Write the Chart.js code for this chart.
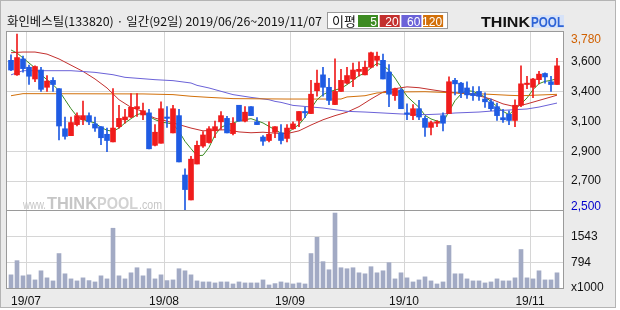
<!DOCTYPE html>
<html>
<head>
<meta charset="utf-8">
<script src="https://cdn.jsdelivr.net/npm/chart.js@4.4.1/dist/chart.umd.min.js"></script>
<style>
html, body { margin: 0; padding: 0; background: #fff; }
canvas { display: block; }
</style>
</head>
<body>
<canvas id="chart" width="620" height="310"></canvas>
<script>
// daily candles, 2019/06/26 ~ 2019/11/07 (92 trading days)
const opens = [3590, 3485, 3600, 3540, 3455, 3520, 3395, 3445, 3385, 3095,
    3045, 3125, 3160, 3190, 3130, 3110, 3055, 3000, 3110, 3160,
    3180, 3240, 3195, 3210, 2975, 2990, 3180, 3065, 3190, 2760,
    2580, 2840, 2970, 2995, 3080, 3145, 3170, 3060, 3265, 3150,
    3255, 3145, 3035, 3010, 3070, 3065, 3025, 3095, 3155, 3220,
    3205, 3370, 3485, 3395, 3270, 3365, 3425, 3455, 3510, 3485,
    3540, 3590, 3590, 3505, 3335, 3375, 3210, 3190, 3240, 3170,
    3105, 3135, 3190, 3205, 3445, 3425, 3390, 3350, 3365, 3310,
    3290, 3255, 3175, 3200, 3155, 3265, 3415, 3395, 3450, 3495,
    3435, 3415];
const highs = [3630, 3780, 3620, 3555, 3550, 3540, 3480, 3465, 3385, 3180,
    3180, 3210, 3295, 3210, 3180, 3110, 3100, 3385, 3265, 3235,
    3350, 3350, 3280, 3235, 3125, 3290, 3255, 3265, 3235, 2805,
    2895, 3005, 3075, 3110, 3150, 3220, 3185, 3175, 3265, 3255,
    3255, 3175, 3045, 3145, 3110, 3125, 3125, 3145, 3220, 3250,
    3445, 3520, 3540, 3460, 3600, 3525, 3540, 3570, 3580, 3585,
    3650, 3650, 3635, 3560, 3390, 3385, 3275, 3270, 3300, 3185,
    3150, 3155, 3210, 3470, 3460, 3430, 3435, 3400, 3400, 3355,
    3310, 3280, 3235, 3225, 3305, 3550, 3475, 3460, 3510, 3500,
    3475, 3605];
const lows = [3515, 3480, 3505, 3415, 3435, 3365, 3365, 3365, 3015, 3020,
    3045, 3115, 3125, 3125, 3075, 2980, 2930, 3000, 3100, 3135,
    3175, 3185, 3160, 2950, 2970, 2990, 3105, 3065, 2855, 2500,
    2580, 2840, 2960, 2990, 3030, 3090, 3065, 3050, 3150, 3145,
    3190, 3125, 2975, 3000, 3030, 2985, 3000, 3090, 3110, 3175,
    3205, 3330, 3330, 3270, 3270, 3365, 3420, 3400, 3475, 3485,
    3535, 3550, 3455, 3255, 3300, 3240, 3160, 3160, 3160, 3040,
    3050, 3110, 3080, 3205, 3340, 3320, 3315, 3300, 3300, 3250,
    3225, 3155, 3140, 3125, 3110, 3255, 3385, 3320, 3420, 3425,
    3365, 3415];
const closes = [3520, 3610, 3530, 3475, 3545, 3380, 3440, 3415, 3115, 3040,
    3140, 3190, 3190, 3145, 3100, 3030, 3010, 3100, 3170, 3180,
    3250, 3255, 3225, 2950, 3070, 3240, 3170, 3240, 2855, 2655,
    2875, 2975, 3050, 3095, 3110, 3190, 3065, 3135, 3150, 3215,
    3190, 3125, 3005, 3055, 3110, 3010, 3100, 3130, 3220, 3210,
    3345, 3425, 3395, 3300, 3365, 3445, 3480, 3520, 3525, 3540,
    3645, 3620, 3455, 3345, 3385, 3240, 3200, 3240, 3180, 3105,
    3140, 3145, 3135, 3435, 3420, 3355, 3340, 3335, 3330, 3290,
    3240, 3190, 3160, 3155, 3265, 3420, 3425, 3455, 3490, 3470,
    3415, 3550];
// volume, x1000 shares
const volumes = [429, 843, 400, 429, 281, 547, 341, 252, 1050, 459,
    311, 252, 341, 261, 222, 400, 311, 1789, 400, 311,
    488, 636, 400, 607, 311, 429, 261, 281, 607, 547,
    429, 252, 222, 222, 193, 222, 222, 163, 222, 193,
    193, 193, 281, 134, 173, 222, 193, 163, 193, 163,
    1050, 1523, 814, 577, 2232, 636, 607, 636, 488, 459,
    666, 488, 547, 784, 311, 488, 341, 222, 281, 370,
    252, 163, 222, 1287, 459, 459, 311, 252, 252, 193,
    222, 311, 252, 252, 341, 1168, 341, 311, 547, 281,
    281, 488];

// moving averages (null = not read, line spans the gap)
const _ = null;
const ma5 = [3665, 3643, 3607, 3571, 3535, 3486, 3450, 3414, 3371, 3305,
    3240, 3185, 3161, 3149, 3137, 3105, 3084, 3076, 3100, 3137,
    3168, 3197, 3210, 3185, 3161, 3144, 3137, 3129, 3076, 3004,
    2951, 2900, 2903, 2960, 3050, 3105, 3125, 3135, 3153, 3161,
    3168, 3153, 3137, 3112, 3088, 3064, 3059, 3096, 3125, 3178,
    3240, 3305, 3342, 3363, 3375, 3387, 3414, 3445, 3479, 3498,
    3535, 3568, 3554, 3518, 3462, 3395, 3330, 3289, 3250, 3192,
    3166, 3151, 3141, 3221, 3298, 3346, 3371, 3366, 3346, 3325,
    3293, 3257, 3221, 3197, 3238, 3274, 3318, 3378, 3421, 3438,
    3445, 3457];
const ma20 = [3645, _, 3650, _, 3650, _, 3635, _, 3600, _,
    3555, _, 3510, _, 3455, _, 3390, _, 3305, _,
    3250, _, 3220, 3190, 3172, _, 3150, _, 3125, _,
    3100, _, 3080, _, 3085, _, 3088, _, 3072, _,
    3066, _, 3070, _, 3063, _, 3060, _, 3080, _,
    3122, _, 3160, _, 3190, _, 3215, _, 3255, _,
    3310, _, 3360, _, 3385, _, 3398, _, 3392, _,
    3378, _, 3365, _, 3356, _, 3348, _, 3333, _,
    3310, _, 3275, _, 3255, _, 3275, _, 3300, _,
    3325, 3338];
const ma60 = [3485, _, 3515, _, _, _, _, _, _, _,
    3515, _, _, _, 3503, _, _, 3486, _, 3467,
    _, _, 3457, _, 3450, _, _, 3443, _, _,
    3426, 3409, _, 3390, _, 3366, _, 3342, _, _,
    3322, _, _, 3305, 3293, 3286, _, 3264, _, _,
    _, _, 3245, _, 3233, _, 3221, _, _, 3216,
    _, _, 3209, _, _, 3202, _, _, _, 3197,
    _, _, 3202, _, 3209, _, _, _, 3216, _,
    _, 3226, _, _, 3233, _, 3238, _, 3252, _,
    _, 3281];
const ma120 = [3334, _, 3349, _, _, _, _, _, _, _,
    _, _, _, _, _, _, _, _, _, _,
    _, _, 3347, _, _, _, _, 3342, _, _,
    3330, _, _, 3322, _, _, _, 3313, _, _,
    _, _, _, _, _, _, 3310, _, _, _,
    _, _, _, _, _, 3310, 3325, _, _, 3334,
    _, 3354, _, _, 3361, _, _, _, _, 3363,
    _, _, 3358, _, 3354, _, _, _, _, 3346,
    _, _, _, 3337, _, 3334, _, _, 3339, _,
    _, 3344];

// axis ticks
const monthLabels = ['19/07', '19/08', '19/09', '19/10', '19/11'];
const monthStartIdx = [3, 26, 47, 66, 87];
const priceGrid = [2716, 2932, 3148, 3363, 3579];
const priceGridLabels = ['2,700', '2,900', '3,100', '3,400', '3,600'];
const priceMin = 2500, priceMax = 3780;
const volGrid = [45, 794, 1543];
const volGridLabels = ['x1000', '794', '1543'];

const UP = '#f01c1c', DOWN = '#1f5be3';
const days = closes.map((c, i) => i);
const candleColor = ctx => closes[ctx.dataIndex] >= opens[ctx.dataIndex] ? UP : DOWN;
const FONT = { family: 'Liberation Sans', size: 12 };

function maLine(label, values, color) {
    return {
        type: 'line', label: label,
        data: days.map(i => ({ x: i, y: values[i] })),
        borderColor: color, borderWidth: 1, pointRadius: 0,
        spanGaps: true, tension: 0, yAxisID: 'y', order: 2,
    };
}

// draw text squeezed to a given width
function fitText(c, text, x, y, width) {
    const w = c.measureText(text).width;
    c.save();
    c.translate(x, y);
    c.scale(Math.min(1.2, width / w), 1);
    c.fillText(text, 0, 0);
    c.restore();
}

const chrome = {
    id: 'chrome',
    beforeDraw(chart) {
        const c = chart.ctx, a = chart.chartArea, py = chart.scales.y, pv = chart.scales.v;
        c.save();
        c.fillStyle = '#ebebeb';
        c.fillRect(0, 0, 616, 308);
        c.fillStyle = '#fff';
        c.fillRect(a.left, py.top, a.right - a.left, py.bottom - py.top);
        c.fillRect(a.left, pv.top, a.right - a.left, pv.bottom - pv.top);

        // title
        c.fillStyle = '#111';
        c.textBaseline = 'alphabetic';
        c.font = '12px "Noto Sans CJK KR"';
        fitText(c, '화인베스틸(133820) · 일간(92일) 2019/06/26~2019/11/07', 7, 26, 315);

        // MA legend box
        c.fillStyle = '#fff';
        c.fillRect(327, 12, 121, 17);
        c.strokeStyle = '#9a9a9a';
        c.lineWidth = 1;
        c.strokeRect(327.5, 12.5, 120, 16);
        c.fillStyle = '#111';
        c.font = '13px "Noto Sans CJK KR"';
        c.fillText('이평', 332, 26);
        const keys = [['5', '#3d8b22'], ['20', '#c3302e'], ['60', '#6b62d8'], ['120', '#d2700a']];
        c.font = '12px "Liberation Sans"';
        c.textAlign = 'right';
        keys.forEach((k, j) => {
            const x = 358 + j * 21.7;
            c.fillStyle = k[1];
            c.fillRect(x, 15, 20, 12);
            c.fillStyle = '#fff';
            c.fillText(k[0], x + 19, 26);
        });
        c.textAlign = 'left';

        // logo
        c.font = 'bold 15px "Liberation Sans"';
        c.fillStyle = '#111';
        fitText(c, 'THINK', 481, 27, 49);
        c.fillStyle = '#d6e2f8';
        c.fillRect(531, 15, 33, 13);
        c.fillStyle = '#2d63d6';
        c.font = 'bold 14px "Liberation Sans"';
        fitText(c, 'POOL', 531, 27, 33);
        c.restore();
    },
    beforeDatasetsDraw(chart) {
        // watermark
        const c = chart.ctx;
        c.save();
        c.fillStyle = '#c6c6c6';
        c.font = '13px "Liberation Sans"';
        fitText(c, 'www.', 23, 209, 23);
        c.font = 'bold 17px "Liberation Sans"';
        fitText(c, 'THINK', 47, 209, 50);
        c.fillStyle = '#d2d2d2';
        fitText(c, 'POOL', 97, 209, 41);
        c.fillStyle = '#c6c6c6';
        c.font = '13px "Liberation Sans"';
        fitText(c, '.com', 139, 209, 23);
        c.restore();
    },
    afterDraw(chart) {
        const c = chart.ctx, a = chart.chartArea, py = chart.scales.y, pv = chart.scales.v;
        c.save();
        c.strokeStyle = '#9a9a9a';
        c.lineWidth = 1;
        c.strokeRect(a.left - 0.5, py.top - 0.5, a.right - a.left + 1, py.bottom - py.top);
        c.strokeRect(a.left - 0.5, pv.top - 0.5, a.right - a.left + 1, pv.bottom - pv.top + 1);
        c.strokeStyle = '#b4b4b4';
        c.strokeRect(0.5, 0.5, 615, 307);
        // high / low of the period
        c.font = '12px "Liberation Sans"';
        c.textBaseline = 'middle';
        c.fillStyle = '#d06000';
        c.fillText('3,780', a.right + 8, py.getPixelForValue(priceMax) + 6);
        c.fillStyle = '#0000cc';
        c.fillText('2,500', a.right + 8, py.getPixelForValue(priceMin) - 4);
        c.restore();
    },
};

const config = {
    type: 'bar',
    data: {
        datasets: [
            {
                label: 'wick',
                data: days.map(i => ({ x: i, y: [lows[i], highs[i]] })),
                backgroundColor: candleColor,
                barThickness: 1, grouped: false, yAxisID: 'y', order: 1,
            },
            {
                label: 'body',
                data: days.map(i => ({ x: i, y: [opens[i], closes[i]] })),
                backgroundColor: candleColor,
                barThickness: 5, minBarLength: 1, grouped: false, yAxisID: 'y', order: 0,
            },
            maLine('120', ma120, '#d2700a'),
            maLine('60', ma60, '#6b62d8'),
            maLine('20', ma20, '#c3302e'),
            maLine('5', ma5, '#3d8b22'),
            {
                label: 'volume',
                data: days.map(i => ({ x: i, y: volumes[i] })),
                backgroundColor: '#a2aac4',
                barThickness: 4, grouped: false, yAxisID: 'v', order: 3,
            },
        ],
    },
    options: {
        responsive: false,
        animation: false,
        devicePixelRatio: 1,
        layout: { padding: { left: 7, top: 32, right: 0, bottom: 0 } },
        plugins: { legend: { display: false }, tooltip: { enabled: false } },
        scales: {
            x: {
                type: 'linear', min: -0.667, max: 92, offset: false,
                grid: { color: '#d6d6d6', offset: false, drawTicks: false },
                border: { display: false },
                afterBuildTicks: s => { s.ticks = monthStartIdx.map(i => ({ value: i - 0.5 })); },
                afterFit: s => { s.height = 22; },
                ticks: {
                    autoSkip: false, maxRotation: 0, padding: 6, color: '#111', font: FONT,
                    callback: (v, i) => monthLabels[i],
                },
            },
            y: {
                type: 'linear', position: 'right', stack: 'panes', stackWeight: 179,
                min: priceMin, max: 3795,
                grid: { color: '#d6d6d6', drawTicks: false },
                border: { display: false },
                afterBuildTicks: s => { s.ticks = priceGrid.map(v => ({ value: v })); },
                afterFit: s => { s.width = 57; },
                ticks: {
                    autoSkip: false, padding: 8, color: '#111', font: FONT,
                    callback: (v, i) => priceGridLabels[i],
                },
            },
            v: {
                type: 'linear', position: 'right', stack: 'panes', stackWeight: 77,
                min: 45, max: 2292,
                grid: { color: ctx => ctx.index === 0 ? 'rgba(0,0,0,0)' : '#d6d6d6', drawTicks: false },
                border: { display: false },
                afterBuildTicks: s => { s.ticks = volGrid.map(v => ({ value: v })); },
                afterFit: s => { s.width = 57; },
                ticks: {
                    autoSkip: false, padding: 8, color: '#111', font: FONT,
                    callback: (v, i) => volGridLabels[i],
                },
            },
        },
    },
    plugins: [chrome],
};

window.stockChart = new Chart(document.getElementById('chart'), config);
</script>
</body>
</html>
